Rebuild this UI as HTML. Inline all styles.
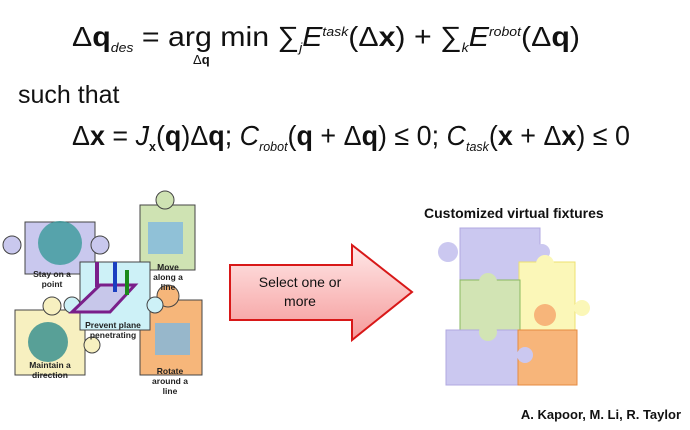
<!DOCTYPE html>
<html><head><meta charset="utf-8"><style>
html,body{margin:0;padding:0;background:#fff;}
svg{display:block;font-family:"Liberation Sans",Arial,sans-serif;}
</style></head><body>
<svg width="690" height="430" viewBox="0 0 690 430">
<rect width="690" height="430" fill="#fff"/>
<text x="72" y="46" font-size="28" fill="#111" textLength="508" lengthAdjust="spacingAndGlyphs">Δ<tspan font-weight="bold">q</tspan><tspan font-size="13" font-style="italic" dy="6">des</tspan><tspan dy="-6"> = arg min ∑</tspan><tspan font-size="13" font-style="italic" dy="6">j</tspan><tspan font-style="italic" dy="-6">E</tspan><tspan font-size="13" font-style="italic" dy="-10">task</tspan><tspan dy="10">(Δ</tspan><tspan font-weight="bold">x</tspan>) + ∑<tspan font-size="13" font-style="italic" dy="6">k</tspan><tspan font-style="italic" dy="-6">E</tspan><tspan font-size="13" font-style="italic" dy="-10">robot</tspan><tspan dy="10">(Δ</tspan><tspan font-weight="bold">q</tspan>)</text>
<text x="193" y="64" font-size="13" fill="#111">Δ<tspan font-weight="bold">q</tspan></text>
<text x="18" y="103" font-size="25" fill="#111">such that</text>
<text x="72" y="145" font-size="28" fill="#111" textLength="558" lengthAdjust="spacingAndGlyphs">Δ<tspan font-weight="bold">x</tspan> = <tspan font-style="italic">J</tspan><tspan font-size="13" font-weight="bold" dy="6">x</tspan><tspan dy="-6">(</tspan><tspan font-weight="bold">q</tspan>)Δ<tspan font-weight="bold">q</tspan>; <tspan font-style="italic">C</tspan><tspan font-size="13" font-style="italic" dy="6">robot</tspan><tspan dy="-6">(</tspan><tspan font-weight="bold">q</tspan> + Δ<tspan font-weight="bold">q</tspan>) ≤ 0; <tspan font-style="italic">C</tspan><tspan font-size="13" font-style="italic" dy="6">task</tspan><tspan dy="-6">(</tspan><tspan font-weight="bold">x</tspan> + Δ<tspan font-weight="bold">x</tspan>) ≤ 0</text>

<g stroke="#444" stroke-width="1">
<rect x="25" y="222" width="70" height="52" fill="#c9c8ee"/>
<circle cx="12" cy="245" r="9" fill="#c9c8ee"/>
<circle cx="100" cy="245" r="9" fill="#c9c8ee"/>
<rect x="140" y="205" width="55" height="65" fill="#cfe3b3"/>
<circle cx="165" cy="200" r="9" fill="#cfe3b3"/>
<rect x="15" y="310" width="70" height="65" fill="#f7f0c0"/>
<circle cx="52" cy="306" r="9" fill="#f7f0c0"/>
<circle cx="92" cy="345" r="8" fill="#f7f0c0"/>
<rect x="140" y="300" width="62" height="75" fill="#f6b67a"/>
<circle cx="168" cy="296" r="11" fill="#f6b67a"/>
<rect x="80" y="262" width="70" height="68" fill="#cdf1f7"/>
<circle cx="72" cy="305" r="8" fill="#cdf1f7"/>
<circle cx="155" cy="305" r="8" fill="#cdf1f7"/>
</g>
<circle cx="60" cy="243" r="22" fill="#3a9a9a" opacity=".8"/>
<circle cx="48" cy="342" r="20" fill="#2f8c8c" opacity=".8"/>
<rect x="148" y="222" width="35" height="32" fill="#7fb8e0" opacity=".8"/>
<rect x="155" y="323" width="35" height="32" fill="#7fb8e0" opacity=".8"/>
<polygon points="72,312 100,285 135,285 110,312" fill="#c7c7ea" stroke="#7a1f8a" stroke-width="3"/>
<rect x="95" y="262" width="4" height="25" fill="#7a1f8a"/>
<rect x="113" y="262" width="4" height="30" fill="#1a3fc0"/>
<rect x="125" y="270" width="4" height="25" fill="#1a8a1a"/>
<g font-size="8.5" font-weight="bold" fill="#222" text-anchor="middle">
<text x="52" y="277">Stay on a</text><text x="52" y="287">point</text>
<text x="168" y="270">Move</text><text x="168" y="280">along a</text><text x="168" y="290">line</text>
<text x="113" y="328">Prevent plane</text><text x="113" y="338">penetrating</text>
<text x="50" y="368">Maintain a</text><text x="50" y="378">direction</text>
<text x="170" y="374">Rotate</text><text x="170" y="384">around a</text><text x="170" y="394">line</text>
</g>

<defs><linearGradient id="g" x1="0" y1="0" x2="0" y2="1"><stop offset="0" stop-color="#ffe8e8"/><stop offset="1" stop-color="#f59a9a"/></linearGradient></defs>
<polygon points="230,265 352,265 352,245 412,292 352,340 352,320 230,320" fill="url(#g)" stroke="#d81818" stroke-width="2"/>
<text x="300" y="287" font-size="14" text-anchor="middle" fill="#111">Select one or</text>
<text x="300" y="306" font-size="14" text-anchor="middle" fill="#111">more</text>

<text x="424" y="218" font-size="14" font-weight="bold" fill="#111">Customized virtual fixtures</text>
<g stroke-width="1">
<rect x="460" y="228" width="80" height="52" fill="#cbc8f0" stroke="#b0a8e0"/>
<circle cx="448" cy="252" r="10" fill="#cbc8f0"/>
<circle cx="542" cy="252" r="8" fill="#cbc8f0"/>
<rect x="519" y="262" width="56" height="70" fill="#fbf7b8" stroke="#ece070"/>
<circle cx="545" cy="264" r="9" fill="#fbf7b8"/>
<circle cx="582" cy="308" r="8" fill="#fbf7b8"/>
<rect x="460" y="280" width="60" height="50" fill="#d2e4b4" stroke="#8ab860"/>
<circle cx="488" cy="282" r="9" fill="#d2e4b4"/>
<rect x="446" y="330" width="74" height="55" fill="#cbc8f0" stroke="#b0a8e0"/>
<circle cx="488" cy="332" r="9" fill="#d2e4b4"/>
<rect x="518" y="330" width="59" height="55" fill="#f7b57a" stroke="#e58a40"/>
<circle cx="545" cy="315" r="11" fill="#f7b57a"/>
<circle cx="525" cy="355" r="8" fill="#cbc8f0"/>
</g>
<text x="681" y="419" font-size="13" font-weight="bold" text-anchor="end" fill="#111">A. Kapoor, M. Li,  R. Taylor</text>
</svg>
</body></html>
